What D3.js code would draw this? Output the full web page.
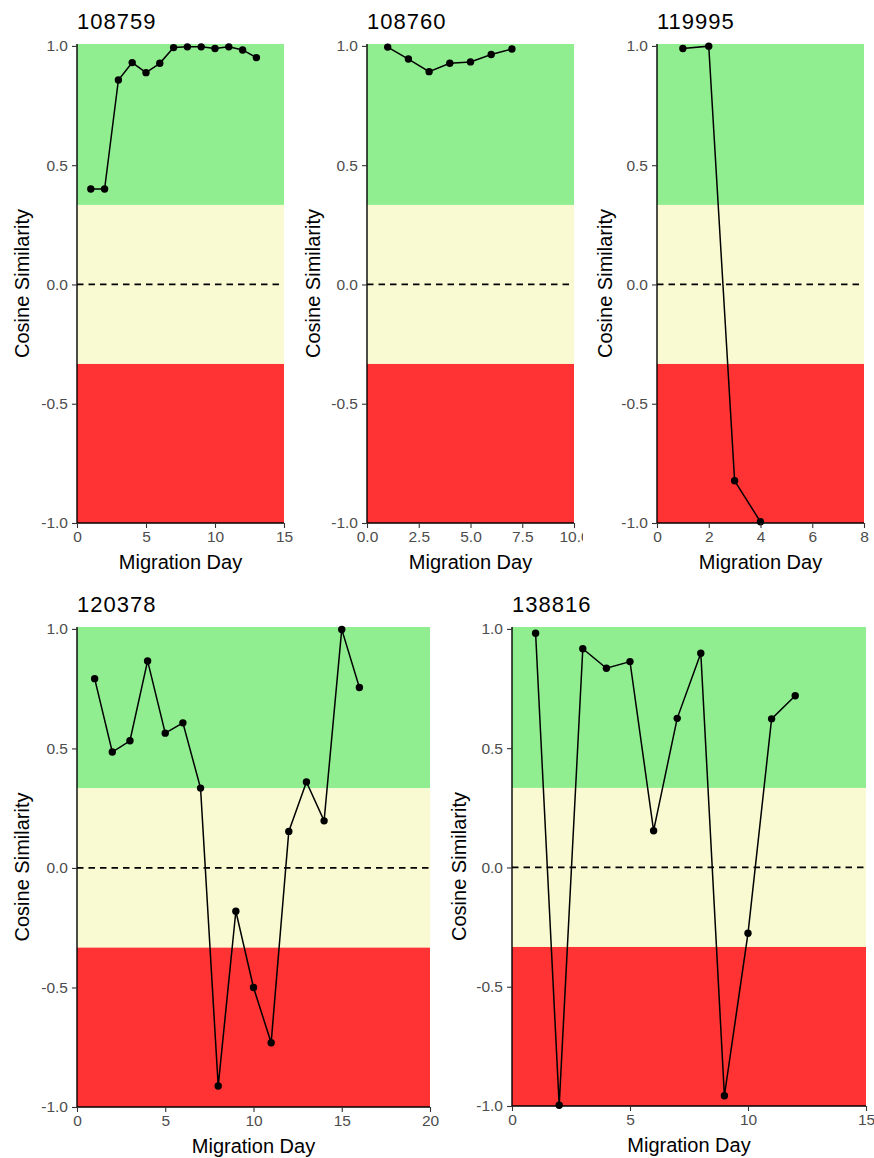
<html>
<head>
<meta charset="utf-8"/>
<script src="https://d3js.org/d3.v7.min.js"></script>
</head>
<body style="margin:0;background:#fff">
<div id="v"></div>
<script type="text/javascript">
// panel ids and x-axis limits
var birds = ["108759", "108760", "119995", "120378", "138816"];
var xMax = [15, 10, 8, 20, 15];
var xTicks = [[0, 5, 10, 15], [0, 2.5, 5, 7.5, 10], [0, 2, 4, 6, 8], [0, 5, 10, 15, 20], [0, 5, 10, 15]];

// cosine similarity per migration day
var sim108759 = [0.40, 0.40, 0.857, 0.93, 0.888, 0.927, 0.993, 0.996, 0.996, 0.989, 0.996, 0.983, 0.951];
var sim108760 = [0.995, 0.945, 0.892, 0.927, 0.933, 0.964, 0.987];
var sim119995 = [0.989, 0.999, -0.823, -0.995];
var sim120378 = [0.792, 0.485, 0.532, 0.866, 0.564, 0.607, 0.334, -0.912, -0.181, -0.500, -0.731, 0.153, 0.36, 0.197, 0.998, 0.755];
var sim138816 = [0.982, -0.997, 0.917, 0.835, 0.863, 0.154, 0.625, 0.898, -0.957, -0.276, 0.623, 0.720];
var series = [sim108759, sim108760, sim119995, sim120378, sim138816];

// background bands
var bands = [
  {lo: 1/3, hi: 1.008, col: "#90EE90"},
  {lo: -1/3, hi: 1/3, col: "#FAFAD2"},
  {lo: -1, hi: -1/3, col: "#FF3333"}
];
var yTicks = [-1, -0.5, 0, 0.5, 1];

var W = 874, H = 1158;
var layout = [
  {vx: 0,   vy: 0,   vw: 291, vh: 580, l: 77, r: 7,  top: 44,  bot: 523, clip: false},
  {vx: 291, vy: 0,   vw: 292, vh: 580, l: 76, r: 9,  top: 44,  bot: 523, clip: true},
  {vx: 583, vy: 0,   vw: 291, vh: 580, l: 74, r: 10, top: 44,  bot: 523, clip: false},
  {vx: 0,   vy: 584, vw: 437, vh: 574, l: 77, r: 7,  top: 43,  bot: 523, clip: false},
  {vx: 437, vy: 584, vw: 437, vh: 574, l: 75, r: 8,  top: 43,  bot: 522, clip: false}
];

function hyph(f) { return function(v) { return f(v).replace("\u2212", "-"); }; }

var svg = d3.select("#v").append("svg").attr("width", W).attr("height", H)
  .style("font-family", "Liberation Sans, Arial, sans-serif");

birds.forEach(function(id, k) {
  var L = layout[k];
  var p = svg.append("svg").attr("x", L.vx).attr("y", L.vy)
    .attr("width", L.vw).attr("height", L.vh).style("overflow", L.clip ? "hidden" : "visible");

  var x = d3.scaleLinear().domain([0, xMax[k]]).range([L.l, L.vw - L.r]);
  var y = d3.scaleLinear().domain([-1, 1.008]).range([L.bot, L.top]);

  p.selectAll(".band").data(bands).enter().append("rect")
    .attr("x", x(0)).attr("width", x(xMax[k]) - x(0))
    .attr("y", function(d) { return y(d.hi); })
    .attr("height", function(d) { return y(d.lo) - y(d.hi); })
    .attr("fill", function(d) { return d.col; });

  p.append("line")
    .attr("x1", x(0)).attr("x2", x(xMax[k]))
    .attr("y1", y(0)).attr("y2", y(0))
    .attr("stroke", "#000").attr("stroke-width", 1.8).attr("stroke-dasharray", "6.5,5");

  var pts = series[k].map(function(v, i) { return [i + 1, v]; });
  p.append("path").datum(pts)
    .attr("fill", "none").attr("stroke", "#000").attr("stroke-width", 1.5)
    .attr("d", d3.line().x(function(d) { return x(d[0]); }).y(function(d) { return y(d[1]); }));
  p.selectAll(".pt").data(pts).enter().append("circle")
    .attr("cx", function(d) { return x(d[0]); })
    .attr("cy", function(d) { return y(d[1]); })
    .attr("r", 3.7).attr("fill", "#000");

  var fmtX = (k == 1) ? d3.format(".1f") : d3.format("d");
  var gx = p.append("g").attr("transform", "translate(0," + L.bot + ")")
    .call(d3.axisBottom(x).tickValues(xTicks[k]).tickFormat(fmtX).tickSize(5).tickPadding(3));
  var gy = p.append("g").attr("transform", "translate(" + L.l + ",0)")
    .call(d3.axisLeft(y).tickValues(yTicks).tickFormat(hyph(d3.format(".1f"))).tickSize(5).tickPadding(4));
  [gx, gy].forEach(function(g) {
    g.select(".domain").attr("stroke", "#000").attr("stroke-width", 1.4)
      .attr("d", g === gx ? "M" + x(0) + ",0H" + x(xMax[k]) : "M0," + L.bot + "V" + L.top);
    g.selectAll(".tick line").attr("stroke", "#333").attr("stroke-width", 1.1);
    g.selectAll(".tick text").attr("fill", "#4D4D4D").style("font-size", "15.5px")
      .style("font-family", "Liberation Sans, Arial, sans-serif");
  });

  p.append("text").attr("x", L.l).attr("y", L.top - 15)
    .style("font-size", "22px").style("letter-spacing", "1px").attr("fill", "#000").text(id);

  p.append("text").attr("x", (x(0) + x(xMax[k])) / 2).attr("y", L.bot + 46)
    .attr("text-anchor", "middle").style("font-size", "20px").attr("fill", "#000").text("Migration Day");

  p.append("text")
    .attr("transform", "translate(29," + (L.top + L.bot) / 2 + ") rotate(-90)")
    .attr("text-anchor", "middle").style("font-size", "20px").attr("fill", "#000").text("Cosine Similarity");
});
</script>
</body>
</html>
